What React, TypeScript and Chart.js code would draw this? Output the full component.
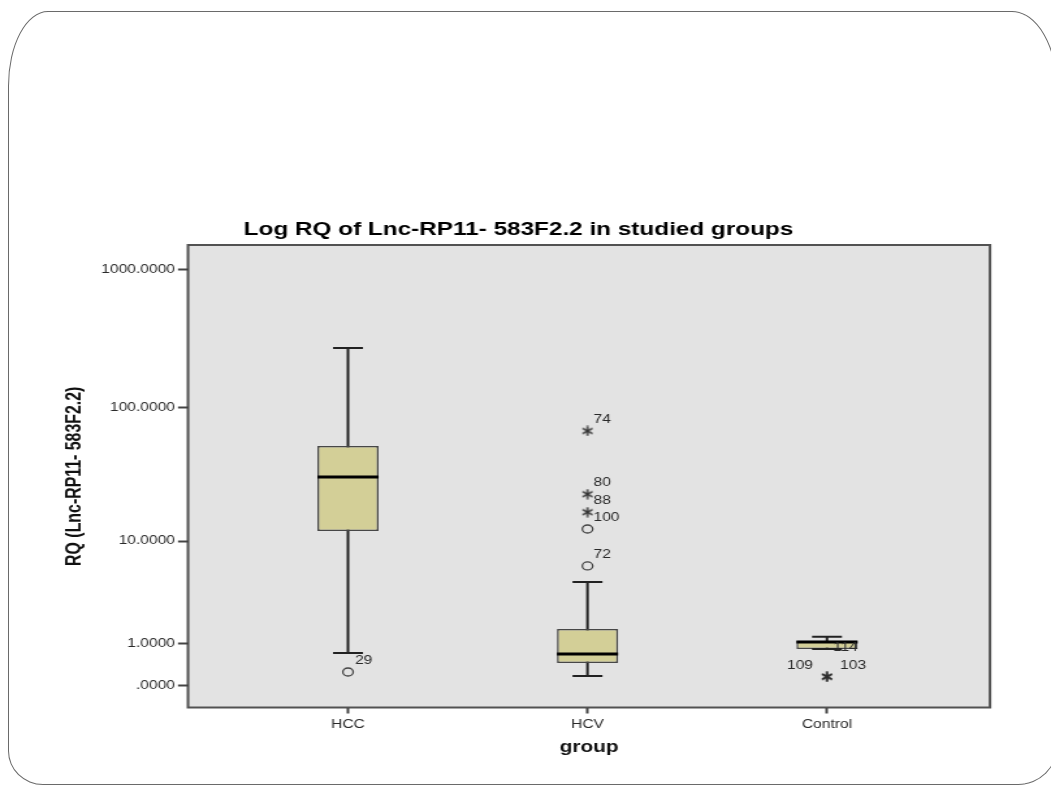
import React, { useEffect, useRef } from 'react';
import { Chart, registerables } from 'chart.js';

Chart.register(...registerables);

// ---------- data ----------
const groups = ['HCC', 'HCV', 'Control'];
const whiskerLow = [0.72, 0.175, 0.838];
const q1 = [12.0, 0.457, 0.838];
const medians = [30.9, 0.692, 1.065];
const q3 = [52.3, 1.56, 1.109];
const whiskerHigh = [270, 4.58, 1.254];

const outlierGroup = [0, 1, 1, 1, 1, 1, 2, 2, 2];
const outlierValue = [0.255, 67.4, 23.0, 16.8, 12.46, 6.29, 0.557, 0.161, 0.161];
const outlierId = ['29', '74', '80', '88', '100', '72', '114', '109', '103'];
const outlierKind = ['circle', 'star', 'star', 'star', 'circle', 'circle', 'hidden', 'star', 'star'];

const yTickValues = [0, 1, 10, 100, 1000];
const yTickLabels = ['.0000', '1.0000', '10.0000', '100.0000', '1000.0000'];

const chartTitle = 'Log RQ of Lnc-RP11- 583F2.2 in studied groups';
const yTitle = 'RQ (Lnc-RP11- 583F2.2)';
const xTitle = 'group';

// label placement (css px, relative to the marker)
const labelDx = [7, 6, 6, 6, 6, 6, 6, -14, 13];
const labelDy = -11;

// ---------- layout ----------
const CANVAS_W = 808;
const CANVAS_H = 785;
const CSS_W = 1051;
const S = CSS_W / CANVAS_W; // horizontal stretch of the picture
const FONT = '"Liberation Sans", Arial, sans-serif';

const tf = (v: number) => Math.log10(v + 1);

function makeAsterisk(): HTMLCanvasElement {
  const c = document.createElement('canvas');
  c.width = 10;
  c.height = 11;
  const g = c.getContext('2d')!;
  g.strokeStyle = '#2e2e2e';
  g.lineWidth = 1.4;
  g.lineCap = 'round';
  const cx = 5, cy = 5.5, rx = 3.9, ry = 4.6;
  for (let k = 0; k < 3; k++) {
    const a = (Math.PI / 3) * k + Math.PI / 2;
    g.beginPath();
    g.moveTo(cx - Math.cos(a) * rx, cy - Math.sin(a) * ry);
    g.lineTo(cx + Math.cos(a) * rx, cy + Math.sin(a) * ry);
    g.stroke();
  }
  return c;
}

const framePlugin = {
  id: 'spssFrame',
  beforeDraw(chart: any) {
    const { ctx, chartArea: a } = chart;
    ctx.save();
    ctx.fillStyle = '#e3e3e3';
    ctx.fillRect(a.left, a.top, a.right - a.left, a.bottom - a.top);
    ctx.strokeStyle = '#525252';
    ctx.lineWidth = 2;
    ctx.strokeRect(a.left, a.top, a.right - a.left, a.bottom - a.top);
    ctx.font = `bold 18.7px ${FONT}`;
    ctx.fillStyle = '#000';
    ctx.textAlign = 'center';
    ctx.textBaseline = 'alphabetic';
    ctx.fillText(chartTitle, 518.5 / S, 235);
    ctx.restore();
  },
  afterDatasetsDraw(chart: any) {
    const { ctx } = chart;
    const xs = chart.scales.x;
    const ys = chart.scales.y;
    ctx.save();
    ctx.font = `12px ${FONT}`;
    ctx.fillStyle = '#2a2a2a';
    ctx.textBaseline = 'middle';
    outlierValue.forEach((v, i) => {
      const px = xs.getPixelForValue(outlierGroup[i]);
      const py = ys.getPixelForValue(tf(v));
      const dx = labelDx[i] / S;
      ctx.textAlign = dx < 0 ? 'right' : 'left';
      ctx.fillText(outlierId[i], px + dx, py + labelDy);
    });
    ctx.restore();
  },
};

export default function App() {
  const ref = useRef<HTMLCanvasElement>(null);

  useEffect(() => {
    const canvas = ref.current;
    if (!canvas) return;

    const circleIdx = outlierKind.map((k, i) => (k === 'circle' ? i : -1)).filter((i) => i >= 0);
    const starIdx = outlierKind.map((k, i) => (k === 'star' ? i : -1)).filter((i) => i >= 0);
    const asterisk = makeAsterisk();

    const chart = new Chart(canvas, {
      type: 'bar',
      data: {
        datasets: [
          {
            type: 'bar',
            label: 'whiskers',
            data: groups.map((_, i) => ({ x: i, y: [tf(whiskerLow[i]), tf(whiskerHigh[i])] })) as any,
            backgroundColor: '#222222',
            maxBarThickness: 2,
            grouped: false,
            order: 5,
          } as any,
          {
            type: 'bar',
            label: 'boxes',
            data: groups.map((_, i) => ({ x: i, y: [tf(q1[i]), tf(q3[i])] })) as any,
            backgroundColor: '#d3cf97',
            borderColor: '#474747',
            borderWidth: 1.5,
            borderSkipped: false,
            maxBarThickness: 47,
            grouped: false,
            order: 4,
          } as any,
          {
            type: 'scatter',
            label: 'caps',
            data: [
              ...groups.map((_, i) => ({ x: i, y: tf(whiskerLow[i]) })),
              ...groups.map((_, i) => ({ x: i, y: tf(whiskerHigh[i]) })),
            ],
            pointStyle: 'line',
            pointRadius: 11.5,
            pointBorderWidth: 2,
            pointBorderColor: '#222222',
            order: 3,
          } as any,
          {
            type: 'scatter',
            label: 'medians',
            data: groups.map((_, i) => ({ x: i, y: tf(medians[i]) })),
            pointStyle: 'line',
            pointRadius: 23.5,
            pointBorderWidth: 3,
            pointBorderColor: '#000000',
            order: 2,
          } as any,
          {
            type: 'scatter',
            label: 'outliers',
            data: circleIdx.map((i) => ({ x: outlierGroup[i], y: tf(outlierValue[i]) })),
            pointStyle: 'circle',
            pointRadius: 4,
            pointBackgroundColor: 'rgba(0,0,0,0)',
            pointBorderColor: '#444444',
            pointBorderWidth: 1.3,
            order: 1,
          } as any,
          {
            type: 'scatter',
            label: 'extremes',
            data: starIdx.map((i) => ({ x: outlierGroup[i], y: tf(outlierValue[i]) })),
            pointStyle: asterisk,
            pointRadius: 5,
            order: 1,
          } as any,
        ],
      },
      options: {
        responsive: false,
        animation: false,
        devicePixelRatio: 1,
        events: [],
        layout: { padding: { left: 0, top: 245, right: CANVAS_W - 990 / S, bottom: 0 } },
        plugins: {
          legend: { display: false },
          tooltip: { enabled: false },
          title: { display: false },
        },
        scales: {
          x: {
            type: 'linear',
            min: -0.668,
            max: 2.6806,
            offset: false,
            afterBuildTicks: (s: any) => {
              s.ticks = groups.map((_, i) => ({ value: i }));
            },
            afterFit: (s: any) => {
              s.height = 77.5;
            },
            ticks: {
              autoSkip: false,
              maxRotation: 0,
              minRotation: 0,
              padding: 3.5,
              color: '#2a2a2a',
              font: { size: 12, family: FONT },
              callback: (v: any) => groups[Number(v)] ?? '',
            },
            grid: {
              offset: false,
              drawOnChartArea: false,
              drawTicks: true,
              tickLength: 6,
              tickWidth: 2,
              tickColor: '#444444',
            },
            border: { display: false },
            title: {
              display: true,
              text: xTitle,
              color: '#111111',
              font: { size: 16, weight: 'bold', family: FONT },
              padding: { top: 0, bottom: 27.8 },
            },
          } as any,
          y: {
            type: 'linear',
            min: -0.157,
            max: 3.175,
            afterBuildTicks: (s: any) => {
              s.ticks = yTickValues.map((v) => ({ value: tf(v) }));
            },
            afterFit: (s: any) => {
              s.width = 188 / S;
            },
            ticks: {
              autoSkip: false,
              padding: 2.3,
              color: '#2a2a2a',
              font: { size: 12, family: FONT },
              callback: (_v: any, i: number) => yTickLabels[i],
            },
            grid: {
              drawOnChartArea: false,
              drawTicks: true,
              tickLength: 10 / S,
              tickWidth: 2,
              tickColor: '#444444',
            },
            border: { display: false },
            title: {
              display: true,
              text: yTitle,
              color: '#111111',
              font: { size: 15.9, weight: 'bold', family: FONT },
              padding: { top: 47.7, bottom: 0 },
            },
          } as any,
        },
      },
      plugins: [framePlugin],
    } as any);

    return () => chart.destroy();
  }, []);

  return (
    <div
      style={{
        position: 'fixed',
        left: 0,
        top: 0,
        width: CSS_W,
        height: CANVAS_H,
        overflow: 'hidden',
        background: '#ffffff',
      }}
    >
      <canvas
        ref={ref}
        width={CANVAS_W}
        height={CANVAS_H}
        style={{ position: 'absolute', left: 0, top: 0, width: `${CSS_W}px`, height: `${CANVAS_H}px` }}
      />
      <div
        style={{
          position: 'absolute',
          left: 8,
          top: 11,
          width: 1050,
          height: 773.5,
          boxSizing: 'border-box',
          border: '1.5px solid #6a6a6a',
          borderRadius: '40px 46px 40px 35px / 75px 80px 40px 34px',
          pointerEvents: 'none',
        }}
      />
    </div>
  );
}
